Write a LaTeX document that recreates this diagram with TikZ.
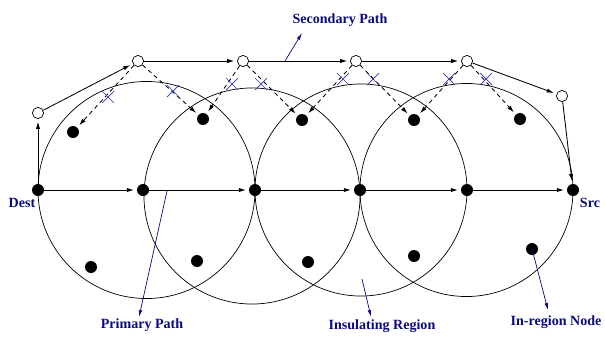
\documentclass[tikz,border=0pt]{standalone}
\usepackage{fontspec}
\setmainfont{Liberation Serif}
\usetikzlibrary{arrows.meta, shapes.misc}
\definecolor{navy}{RGB}{10,10,130}
\definecolor{crossblue}{RGB}{50,50,185}
\tikzset{
  hop/.style={circle, fill=black, inner sep=0pt, minimum size=0.3cm},
  relay/.style={circle, draw=black, fill=white, inner sep=0pt,
                minimum size=0.28cm, line width=0.5pt},
  region/.style={circle, draw=black, inner sep=0pt, minimum size=#1,
                 line width=0.5pt},
  link/.style={-{Latex[length=5pt,width=3pt]}, shorten >=2pt, line width=0.6pt},
  probe/.style={link, dash pattern=on 3pt off 2.5pt},
  cut/.style={cross out, draw=crossblue, minimum size=0.28cm, inner sep=0pt,
              line width=0.5pt},
  tag/.style={text=navy, font=\bfseries},
  pointer/.style={-{Latex[length=5pt,width=2.5pt]}, draw=navy, line width=0.5pt},
}
\begin{document}
\begin{tikzpicture}[x=0.025cm, y=-0.025cm]
\useasboundingbox (0,0) rectangle (605,336);

% insulating regions
\node[region=5.425cm] (r1) at (146.5,190) {};
\node[region=5.4cm]   (r2) at (252,196) {};
\node[region=5.3cm]   (r3) at (361,190) {};
\node[region=5.325cm] (r4) at (466.5,190) {};

% primary path nodes
\node[hop] (dest) at (38,190) {};
\node[hop] (p1) at (143,190) {};
\node[hop] (p2) at (255,190) {};
\node[hop] (p3) at (360,190) {};
\node[hop] (p4) at (467,190) {};
\node[hop] (src) at (573,190) {};

% secondary path nodes
\node[relay] (q0) at (38,113) {};
\node[relay] (q1) at (138,61) {};
\node[relay] (q2) at (243,61) {};
\node[relay] (q3) at (356,61) {};
\node[relay] (q4) at (467,61) {};
\node[relay] (q5) at (562,96) {};

% in-region nodes
\node[hop] (u1) at (73,132) {};
\node[hop] (u2) at (203,119) {};
\node[hop] (u3) at (302,120) {};
\node[hop] (u4) at (414,120) {};
\node[hop] (u5) at (520,119) {};
\node[hop] (l1) at (91,267) {};
\node[hop] (l2) at (197,261) {};
\node[hop] (l3) at (308,262) {};
\node[hop] (l4) at (414,256) {};
\node[hop] (l5) at (532,249) {};

% primary path
\draw[link] (dest) -- (p1);
\draw[link] (p1) -- (p2);
\draw[link] (p2) -- (p3);
\draw[link] (p3) -- (p4);
\draw[link] (p4) -- (src);

% secondary path
\draw[link] (dest) -- (q0);
\draw[link] (q0) -- (q1);
\draw[link] (q1) -- (q2);
\draw[link] (q2) -- (q3);
\draw[link] (q3) -- (q4);
\draw[link] (q4) -- (q5);
\draw[link] (q5) -- (src);

% blocked probes
\draw[probe] (q1) -- (u1);
\draw[probe] (q1) -- (u2);
\draw[probe] (q2) -- (u2);
\draw[probe] (q2) -- (u3);
\draw[probe] (q3) -- (u3);
\draw[probe] (q3) -- (u4);
\draw[probe] (q4) -- (u4);
\draw[probe] (q4) -- (u5);

\node[cut] (x1) at (108,97) {};
\node[cut] (x2) at (173,91) {};
\node[cut] (x3) at (232,84) {};
\node[cut] (x4) at (261,84) {};
\node[cut] (x5) at (343,79) {};
\node[cut] (x6) at (373,79) {};
\node[cut] (x7) at (449,79) {};
\node[cut] (x8) at (486,79) {};

% labels
\node[tag] (ldest) at (22,203) {Dest};
\node[tag] (lsrc) at (590,203) {Src};
\node[tag] (lsec) at (340,20) {Secondary Path};
\node[tag] (lprim) at (142,325) {Primary Path};
\node[tag] (lins) at (382,326) {Insulating Region};
\node[tag] (lin) at (556,322) {In-region Node};

\coordinate (onsec) at (285,61);
\coordinate (tipsec) at (302,33);
\coordinate (onprim) at (167,191);
\coordinate (tipprim) at (139,317);
\coordinate (onins) at (362,279);
\coordinate (tipins) at (371,317);
\coordinate (tipin) at (548,310);

\draw[pointer] (onsec) -- (tipsec);
\draw[pointer] (onprim) -- (tipprim);
\draw[pointer] (onins) -- (tipins);
\draw[pointer] (l5.center) -- (tipin);

\end{tikzpicture}
\end{document}
